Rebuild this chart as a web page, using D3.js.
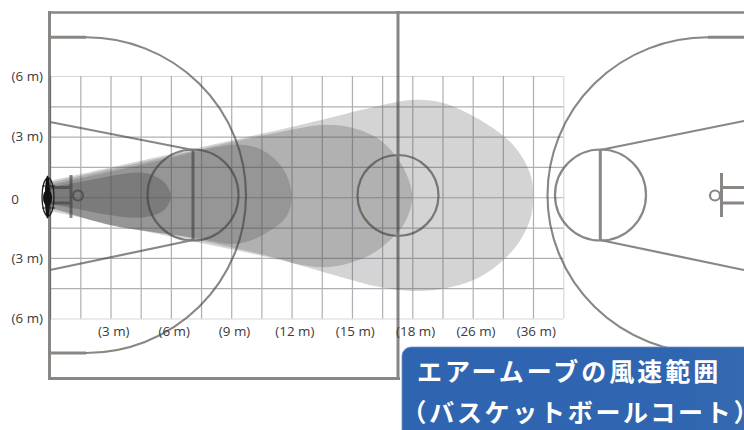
<!DOCTYPE html>
<html lang="ja">
<head>
<meta charset="utf-8">
<script src="https://cdn.jsdelivr.net/npm/d3@7"></script>
<style>
html,body{margin:0;padding:0;background:#fff;overflow:hidden}
svg{display:block}
.lbl text{font-family:"Open Sans",sans-serif;font-size:13.4px;fill:#3a3a3a}
</style>
</head>
<body>
<svg id="c" width="744" height="430"></svg>
<script>
// Axis ticks and labels (metres; the horizontal scale changes after 18 m)
const gridX = [0,1.5,3,4.5,6,7.5,9,10.5,12,13.5,15,16.5,18,22,26,31,36,41];
const gridY = [-6,-4.5,-3,-1.5,0,1.5,3,4.5,6];
const xTicks = [3,6,9,12,15,18,26,36];
const xLabels = ["(3 m)","(6 m)","(9 m)","(12 m)","(15 m)","(18 m)","(26 m)","(36 m)"];
const yTicks = [6,3,0,-3,-6];
const yLabels = ["(6 m)","(3 m)","0","(3 m)","(6 m)"];
const titleLines = ["エアームーブの風速範囲","（バスケットボールコート）"];

// Air-reach outlines [distance, lateral offset] in metres, one per wind-speed band
const reach36 = [[0,.81],[6,2.14],[12.42,3.58],[16.54,4.57],[18.36,4.82],[22.07,4.67],[27.2,3.83],[32.7,2.59],[35.5,1.2],[36,.06],[35.5,-1.12],[32.7,-2.61],[27.2,-3.95],[22.6,-4.49],[18.62,-4.64],[16.39,-4.44],[11.42,-3.1],[6,-1.95],[0,-.68]];
const reach18 = [[0,.71],[6,2.05],[11.42,3.23],[13.56,3.58],[15.05,3.43],[16.39,2.84],[17.54,1.5],[18,.05],[17.75,-1.0],[17.24,-1.77],[15.9,-2.86],[13.91,-3.45],[12.27,-3.3],[11.42,-3.05],[6,-1.8],[0,-.58]];
const reach12 = [[0,.61],[4.47,1.6],[8.4,2.5],[9.44,2.6],[10.4,2.4],[11.2,1.85],[11.75,1.1],[12,.05],[11.75,-.95],[11.08,-1.55],[10.2,-2.05],[9.09,-2.31],[6.95,-1.97],[2.97,-1.37],[0,-.48]];
const reach6 = [[0,.51],[1.48,.76],[3.6,1.15],[4.47,1.22],[5.2,1.05],[5.75,.65],[6,.01],[5.7,-.6],[5.1,-.9],[4.2,-1.02],[2.97,-.88],[1.48,-.6],[0,-.33]];
const bandOutlines = [reach36,reach18,reach12,reach6];
const bandColors = ["#d4d4d4","#b1b1b1","#969696","#7b7b7b"];

const svg = d3.select("#c");
const x = d3.scaleLinear().domain([0,18,26,36,41]).range([50.15,412.3,472.7,533,563.3]);
const y = d3.scaleLinear().domain([-6,6]).range([318.5,76]);

// bands
const line = d3.line().x(d=>x(d[0])).y(d=>y(d[1])).curve(d3.curveCatmullRom.alpha(.5));
svg.append("g").selectAll("path").data(bandOutlines).join("path")
  .attr("d",d=>line(d)+"Z").attr("fill",(d,i)=>bandColors[i]);

// grid
const gridCol="#4e505c";
const grid = svg.append("g").attr("opacity",.45);
const gx = grid.append("g").attr("transform","translate(0,76)")
  .call(d3.axisBottom(x).tickValues(gridX).tickSize(242.5).tickFormat(""));
gx.select(".domain").remove();
gx.selectAll("line").attr("stroke",gridCol).attr("stroke-width",1.2).attr("stroke-opacity",(d,i)=>i==gridX.length-1?.5:1);
const gy = grid.append("g").attr("transform","translate(50.15,0)")
  .call(d3.axisRight(y).tickValues(gridY).tickSize(513.2).tickFormat(""));
gy.select(".domain").remove();
gy.selectAll("line").attr("stroke",gridCol).attr("stroke-width",1.2).attr("stroke-opacity",d=>Math.abs(d)==6?.5:1);

// court
const court = svg.append("g").attr("opacity",.62).attr("fill","none").attr("stroke","#423d3a");
const L=(a,b,c,d,w)=>court.append("line").attr("x1",a).attr("y1",b).attr("x2",c).attr("y2",d).attr("stroke-width",w);
const C=(a,b,r,w)=>court.append("circle").attr("cx",a).attr("cy",b).attr("r",r).attr("stroke-width",w);
L(49.5,11,49.5,380,3); L(48,12.5,744,12.5,2.4); L(48,378.5,400,378.5,3); L(398,11,398,380,3);
L(48,37.3,86,37.3,3); L(48,353,86,353,3); L(708,37.3,744,37.3,3);
court.append("path").attr("stroke-width",2.1).attr("d","M86,37.3A160,157.85 0 0 1 86,353");
court.append("path").attr("stroke-width",2.1).attr("d","M708,37.3A160.5,157.85 0 0 0 708,353");
C(193,195,45.5,2.2); L(193,150,193,240,3); L(50,122,193,150,2.2); L(50,270,193,240,2.2);
C(398,195.5,40.5,2.2);
C(600.5,195,45.5,2.2); L(600.3,150,600.3,240,3); L(600,150,744,121,2.2); L(600,240,744,270,2.2);
L(71,175,71,218,3); L(50,187.5,71,187.5,3); L(50,203,71,203,3); C(78,195.5,5,2.2);
L(721.5,173,721.5,217,3); L(722,187.5,744,187.5,3); L(722,203,744,203,3); C(715,195.5,5,2.2);

// fan
const fan = svg.append("g").attr("fill","none").attr("stroke","#1c1c1c");
fan.append("ellipse").attr("cx",48).attr("cy",197).attr("rx",6).attr("ry",19).attr("stroke-width",1.3);
fan.append("ellipse").attr("cx",47.5).attr("cy",197).attr("rx",2.6).attr("ry",21.5).attr("fill","#111").attr("stroke","none");
fan.append("ellipse").attr("cx",47.5).attr("cy",198).attr("rx",4.5).attr("ry",8).attr("fill","#111").attr("stroke","none");
fan.append("line").attr("x1",42).attr("x2",55).attr("y1",186).attr("y2",186);
fan.append("line").attr("x1",42).attr("x2",55).attr("y1",208).attr("y2",208);

// labels
const ax = svg.append("g").attr("class","lbl").attr("transform","translate(2.8,326.5)")
  .call(d3.axisBottom(x).tickValues(xTicks).tickSize(0).tickPadding(0).tickFormat((d,i)=>xLabels[i]));
ax.select(".domain").remove();
const ay = svg.append("g").attr("class","lbl").attr("transform","translate(43,0)")
  .call(d3.axisLeft(y).tickValues(yTicks).tickSize(0).tickPadding(0).tickFormat((d,i)=>yLabels[i]));
ay.select(".domain").remove();
ay.selectAll("text").filter(d=>d===0).attr("x",-24).attr("dy","0.45em");

// title box
const defs = svg.append("defs");
const g = defs.append("linearGradient").attr("id","bx");
g.append("stop").attr("offset","0").attr("stop-color","#2f65b0");
g.append("stop").attr("offset","0.75").attr("stop-color","#3066b0");
g.append("stop").attr("offset","1").attr("stop-color","#386cb2");
svg.append("rect").attr("x",402).attr("y",347).attr("width",380).attr("height",120).attr("rx",9)
  .attr("fill","url(#bx)").attr("stroke","#6f93c6").attr("stroke-width",.8);
svg.append("g").selectAll("text").data(titleLines).join("text")
  .attr("x",(d,i)=>i?401.5:417).attr("y",(d,i)=>i?422:381)
  .attr("fill","#fff").attr("font-family","'Noto Sans CJK JP'").attr("font-weight",700)
  .attr("font-size",25).attr("letter-spacing",(d,i)=>i?2.7:3).text(d=>d);
</script>
</body>
</html>
